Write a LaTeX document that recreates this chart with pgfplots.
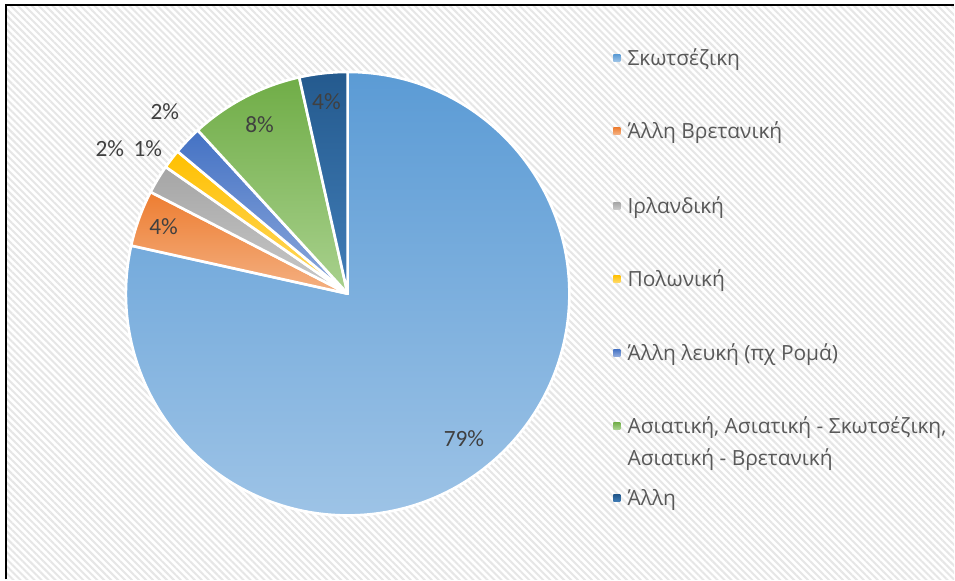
\documentclass[border=0pt]{standalone}
\usepackage{pgfplots}
\pgfplotsset{compat=1.18}
\usepackage{pgfplotstable}
\usetikzlibrary{patterns.meta}
\usepackage{fontspec}
\setmainfont{Open Sans}
\newfontfamily\calibri{Carlito}

\definecolor{cA1}{HTML}{5B9BD5}\definecolor{cA2}{HTML}{9DC3E6}
\definecolor{cB1}{HTML}{ED7D31}\definecolor{cB2}{HTML}{F4B183}
\definecolor{cC1}{HTML}{A5A5A5}\definecolor{cC2}{HTML}{C9C9C9}
\definecolor{cD1}{HTML}{FFC000}\definecolor{cD2}{HTML}{FFD966}
\definecolor{cE1}{HTML}{4472C4}\definecolor{cE2}{HTML}{8FAADC}
\definecolor{cF1}{HTML}{70AD47}\definecolor{cF2}{HTML}{A9D18E}
\definecolor{cG1}{HTML}{245A8E}\definecolor{cG2}{HTML}{427EB8}
\definecolor{labtxt}{HTML}{404040}
\definecolor{legtxt}{HTML}{595959}
\definecolor{hatch}{HTML}{E6E6E6}

\pgfplotstableread{
value
78.4
4.1
2.1
1.4
2.1
8.3
3.5
}\piedata

\newcommand\PS[1]{\csname ps#1\endcsname}
\newcommand\PE[1]{\csname pe#1\endcsname}
\newcommand\PM[1]{\csname pm#1\endcsname}
\newcommand\pieslice[3]{%
  \path[top color=#2, bottom color=#3, draw=white, line width=2pt, line join=round]
    (axis cs:348,286) -- ++(\PS{#1}:166.5pt)
    arc[start angle=\PS{#1}, end angle=\PE{#1}, radius=166.5pt] -- cycle;}
\newcommand\inlab[3]{%
  \path (axis cs:348,286) ++(\PM{#1}:#2) node[font=\calibri\fontsize{17.5}{20}\selectfont, text=labtxt] {#3};}
\newcommand\legsq[3]{%
  \path[top color=#2, bottom color=#3] (axis cs:614,{580-#1-3.5}) rectangle (axis cs:621,{580-#1+3.5});}
\newcommand\legtx[2]{%
  \node[anchor=base west, inner sep=0pt, font=\fontsize{15.7}{18}\selectfont, text=legtxt] at (axis cs:628,{580-#1-7.5}) {#2};}

\begin{document}
\begin{tikzpicture}
\gdef\tot{0}
\foreach \i in {0,...,6}{%
  \pgfplotstablegetelem{\i}{value}\of\piedata
  \pgfmathsetmacro\mytmp{\tot+\pgfplotsretval}%
  \xdef\tot{\mytmp}}
\gdef\cum{0}
\foreach \i in {0,...,6}{%
  \pgfplotstablegetelem{\i}{value}\of\piedata
  \pgfmathsetmacro\myS{90-3.6*(\cum/\tot)*100}%
  \pgfmathsetmacro\mytmp{\cum+\pgfplotsretval}%
  \xdef\cum{\mytmp}%
  \pgfmathsetmacro\myE{90-3.6*(\cum/\tot)*100}%
  \pgfmathsetmacro\myM{(\myS+\myE)/2}%
  \expandafter\xdef\csname ps\i\endcsname{\myS}%
  \expandafter\xdef\csname pe\i\endcsname{\myE}%
  \expandafter\xdef\csname pm\i\endcsname{\myM}}
\begin{axis}[x=0.75pt, y=0.75pt, xmin=0, xmax=955, ymin=0, ymax=580,
  hide axis, scale only axis, clip=false]
\addplot[draw=none] coordinates {(0,0) (955,580)};
\fill[white] (axis cs:0,0) rectangle (axis cs:955,580);
\fill[pattern={Lines[angle=-45,distance=3.7pt,line width=1.5pt]}, pattern color=hatch]
  (axis cs:7,0) rectangle (axis cs:955,574);
\draw[black, line width=1.5pt] (axis cs:6,0) -- (axis cs:6,575) -- (axis cs:955,575);
\pieslice{0}{cA1}{cA2}
\pieslice{1}{cB1}{cB2}
\pieslice{2}{cC1}{cC2}
\pieslice{3}{cD1}{cD2}
\pieslice{4}{cE1}{cE2}
\pieslice{5}{cF1}{cF2}
\pieslice{6}{cG1}{cG2}
\inlab{0}{139.5pt}{79\%}
\inlab{1}{147pt}{4\%}
\inlab{5}{143pt}{8\%}
\inlab{6}{145pt}{4\%}
\node[font=\calibri\fontsize{17.5}{20}\selectfont, text=labtxt] at (axis cs:110,431) {2\%};
\node[font=\calibri\fontsize{17.5}{20}\selectfont, text=labtxt] at (axis cs:148,431) {1\%};
\node[font=\calibri\fontsize{17.5}{20}\selectfont, text=labtxt] at (axis cs:165,468) {2\%};
\legsq{58}{cA1}{cA2}  \legtx{58}{Σκωτσέζικη}
\legsq{131}{cB1}{cB2} \legtx{131}{Άλλη Βρετανική}
\legsq{206}{cC1}{cC2} \legtx{206}{Ιρλανδική}
\legsq{279}{cD1}{cD2} \legtx{279}{Πολωνική}
\legsq{353}{cE1}{cE2} \legtx{353}{Άλλη λευκή (πχ Ρομά)}
\legsq{426}{cF1}{cF2} \legtx{426}{Ασιατική, Ασιατική - Σκωτσέζικη,}
\legtx{458}{Ασιατική - Βρετανική}
\legsq{499}{cG1}{cG2} \legtx{499}{Άλλη}
\end{axis}
\end{tikzpicture}
\end{document}
